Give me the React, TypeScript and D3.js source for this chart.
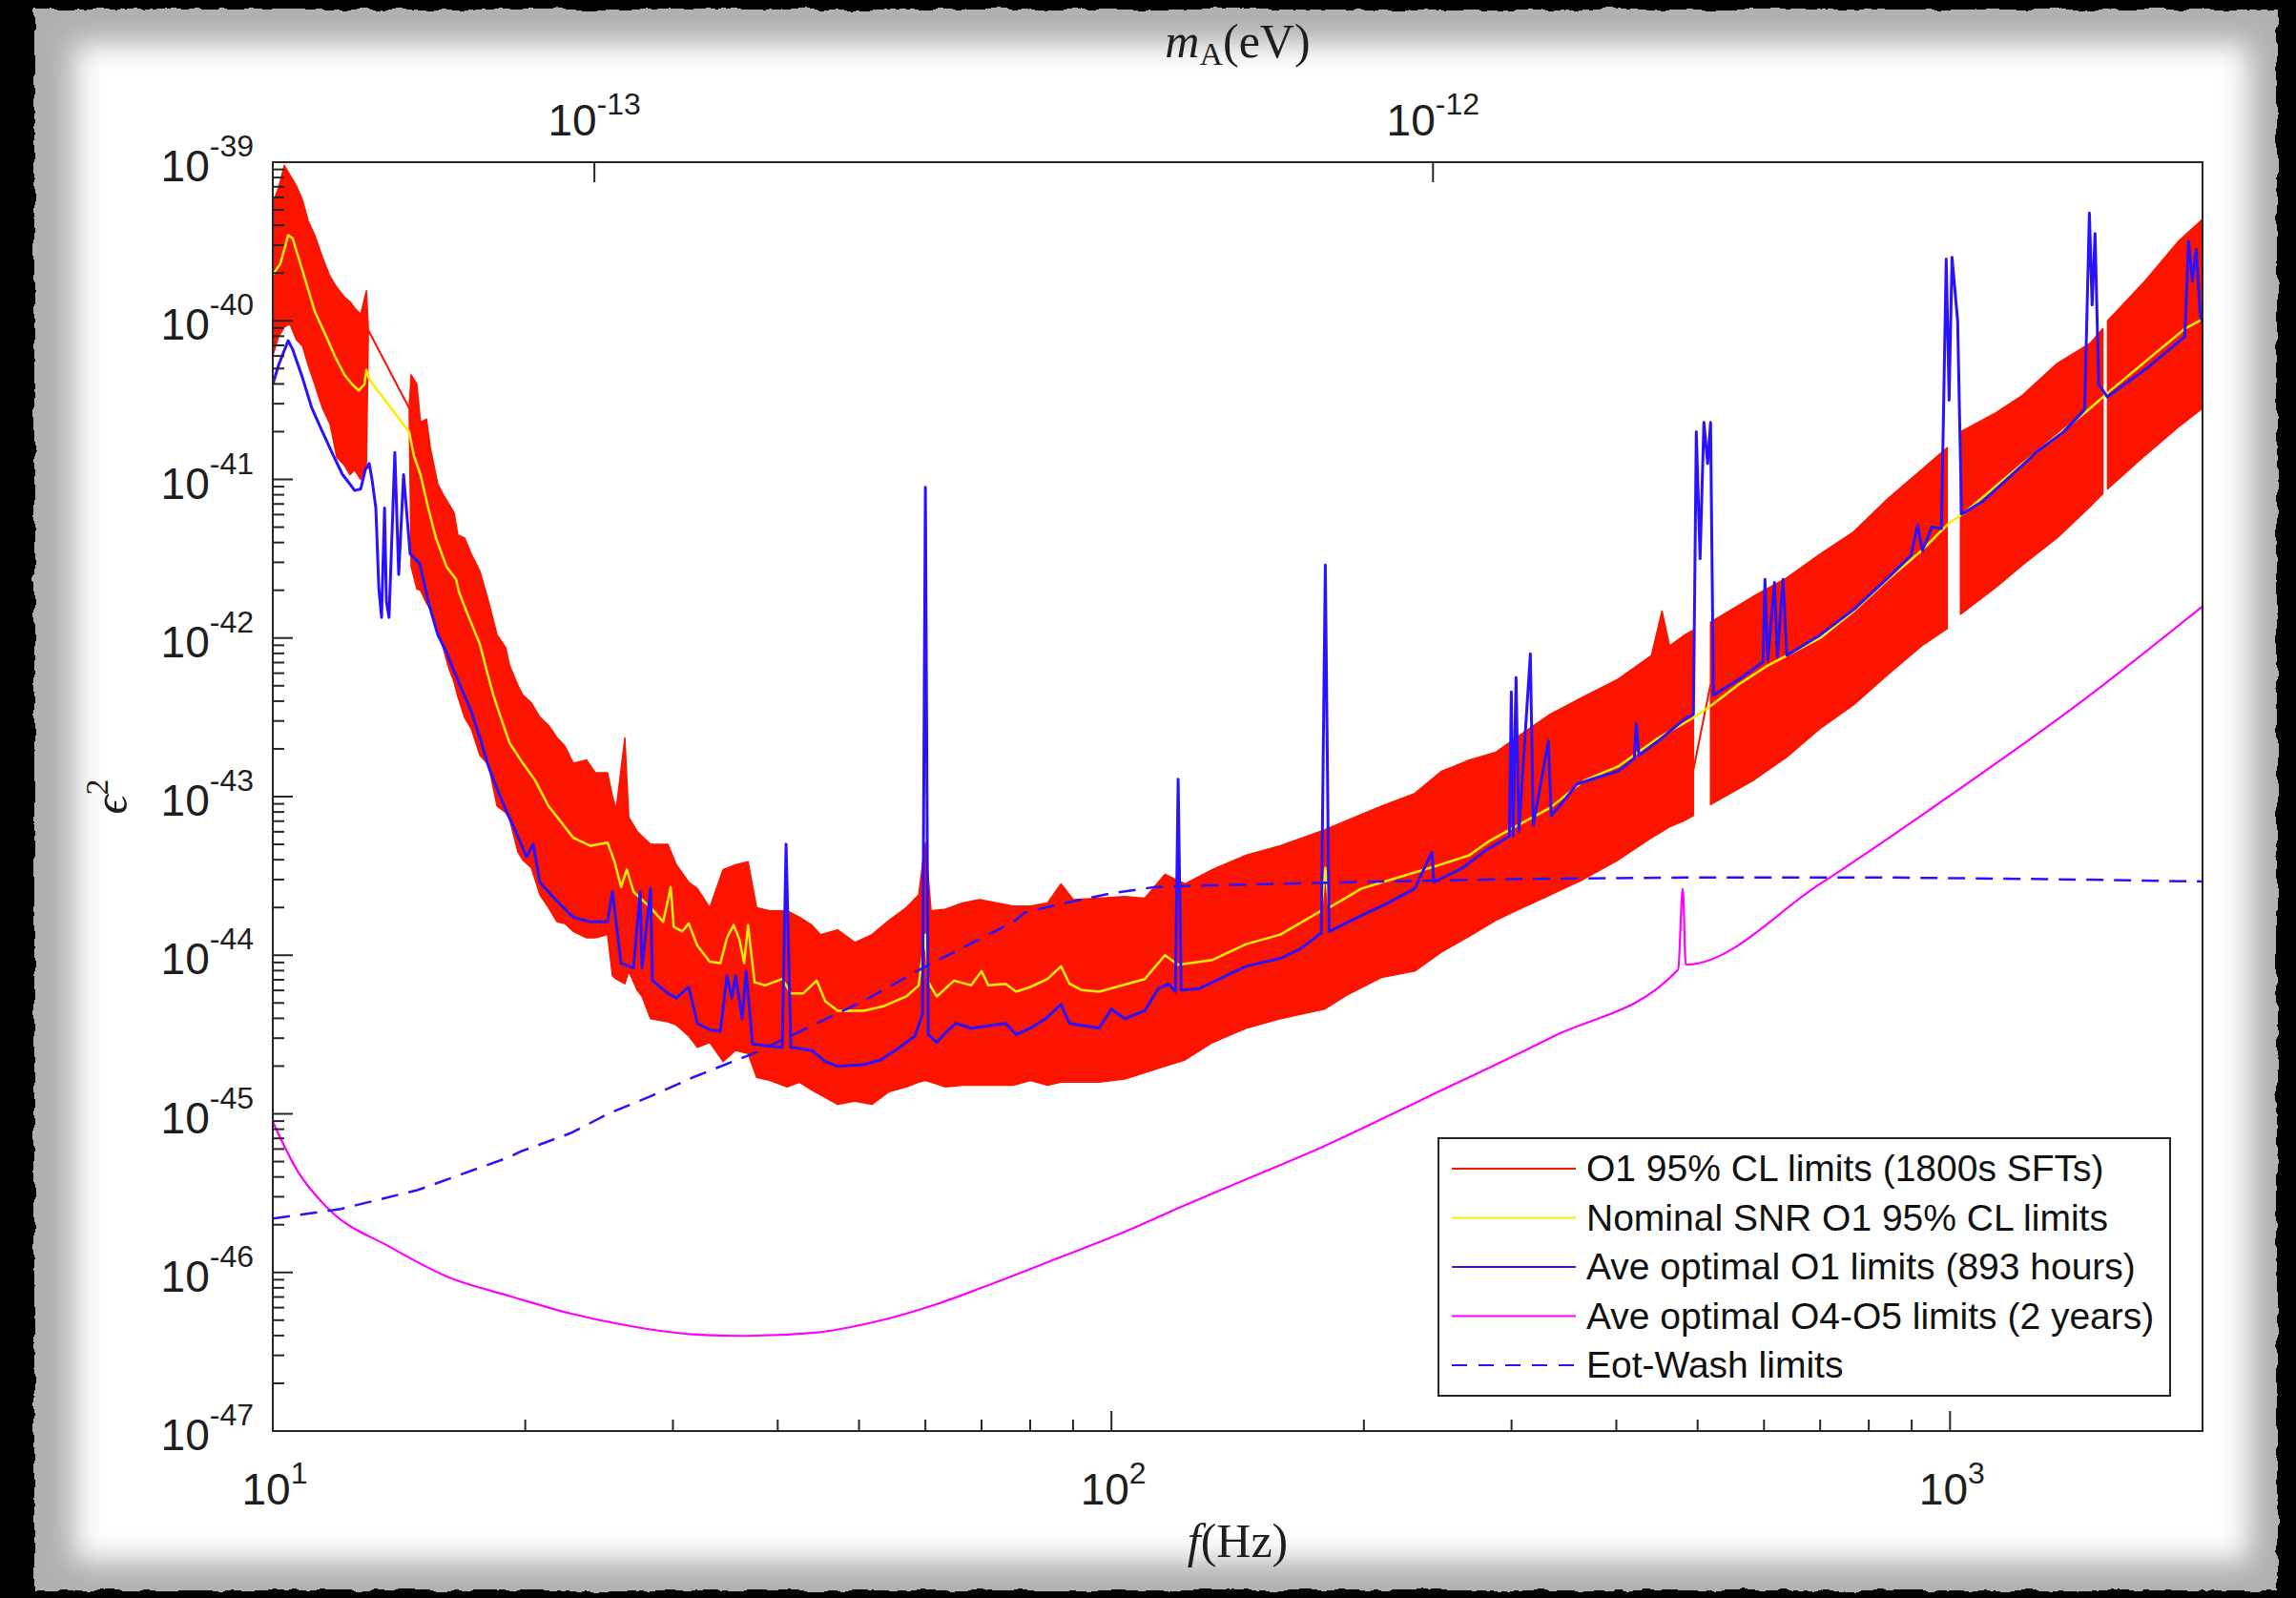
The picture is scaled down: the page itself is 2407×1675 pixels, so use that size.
import React, { useEffect, useRef } from 'react';
import * as d3 from 'd3';

// all values: frequency in Hz, curves as log10(eps^2)

// red band (O1 95% CL limits), upper / lower envelope; null = data gap
const redFreq = [
  10.0, 10.16, 10.32, 10.48, 10.67, 10.85, 11.02, 11.22, 11.46, 11.70, 11.92, 12.17, 12.36, 12.52, 12.73, 12.93, 13.00,
  null,
  14.54, 14.62, 14.85, 15.00, 15.25, 15.41, 15.73, 15.94, 16.19, 16.45,
  16.62, 16.93, 17.24, 17.66, 18.08, 18.51, 18.95, 19.15, 19.60, 19.87,
  20.34, 20.82, 21.32, 21.83, 22.29, 22.82, 23.67, 24.24, 25.07, 25.41,
  25.67, 26.29, 26.57, 27.20, 27.56, 28.21, 29.58, 30.28, 31.33, 32.08,
  33.19, 34.43, 35.63, 36.87, 37.75, 39.15, 41.05, 42.46, 43.93, 44.98,
  47.16, 49.43, 51.81, 54.32, 56.94, 58.90, 60.00, 60.95, 63.39, 66.45,
  69.66, 73.05, 76.35, 80.06, 83.90, 87.07, 90.06, 96.65, 103.7, 109.6,
  115.8, 122.4, 132.0, 144.7, 159.0, 179.4, 191.0, 209.9, 230.0, 247.5,
  267.1, 287.4, 309.2, 333.6, 365.7, 401.9, 440.5, 453.4, 463.0, 482.8,
  494.3,
  null,
  518.1, 581.6, 638.9, 700.2, 767.6, 843.3, 924.4, 992.2,
  null,
  1029, 1134, 1220, 1341, 1470, 1521,
  null,
  1541, 1707, 1871, 2000,
];
const redHi = [
  -39.26, -39.16, -39.02, -39.08, -39.15, -39.24, -39.37, -39.46, -39.60, -39.72, -39.79, -39.85, -39.88, -39.92, -39.96, -39.81, -40.06,
  null,
  -40.55, -40.34, -40.40, -40.64, -40.62, -40.80, -41.03, -41.09, -41.15, -41.21,
  -41.35, -41.37, -41.47, -41.58, -41.77, -41.98, -42.06, -42.17, -42.30, -42.36,
  -42.41, -42.50, -42.55, -42.63, -42.68, -42.79, -42.77, -42.85, -42.85, -43.00,
  -43.08, -42.63, -43.13, -43.22, -43.25, -43.30, -43.30, -43.43, -43.54, -43.58,
  -43.70, -43.46, -43.43, -43.41, -43.70, -43.72, -43.72, -43.76, -43.81, -43.87,
  -43.84, -43.92, -43.87, -43.78, -43.70, -43.62, -43.29, -43.72, -43.71, -43.67,
  -43.65, -43.67, -43.69, -43.69, -43.67, -43.55, -43.65, -43.64, -43.63, -43.64,
  -43.49, -43.55, -43.46, -43.37, -43.31, -43.21, -43.15, -43.06, -42.98, -42.84,
  -42.77, -42.72, -42.60, -42.48, -42.37, -42.26, -42.11, -41.83, -42.05, -41.98,
  -41.95,
  null,
  -41.90, -41.74, -41.62, -41.47, -41.33, -41.12, -40.94, -40.80,
  null,
  -40.70, -40.58, -40.47, -40.27, -40.14, -40.05,
  null,
  -40.00, -39.75, -39.50, -39.36,
];
const redLo = [
  -40.22, -40.10, -40.04, -40.02, -40.12, -40.16, -40.28, -40.40, -40.55, -40.65, -40.86, -40.91, -40.97, -40.94, -41.00, -40.90, -40.06,
  null,
  -40.55, -41.55, -41.69, -41.70, -41.78, -41.82, -41.95, -42.05, -42.18, -42.28,
  -42.37, -42.50, -42.57, -42.74, -42.80, -43.06, -43.10, -43.14, -43.35, -43.40,
  -43.45, -43.62, -43.70, -43.79, -43.80, -43.85, -43.89, -43.89, -43.87, -44.13,
  -44.15, -44.18, -44.10, -44.22, -44.26, -44.40, -44.42, -44.44, -44.51, -44.58,
  -44.55, -44.67, -44.60, -44.62, -44.77, -44.79, -44.83, -44.80, -44.85, -44.88,
  -44.94, -44.92, -44.94, -44.86, -44.83, -44.80, -44.79, -44.80, -44.83, -44.82,
  -44.82, -44.82, -44.82, -44.79, -44.82, -44.80, -44.80, -44.80, -44.78, -44.74,
  -44.70, -44.66, -44.55, -44.46, -44.40, -44.34, -44.25, -44.14, -44.10, -43.98,
  -43.88, -43.78, -43.70, -43.62, -43.52, -43.40, -43.26, -43.22, -43.19, -43.15,
  -43.12,
  null,
  -43.05, -42.90, -42.75, -42.57, -42.42, -42.23, -42.05, -41.94,
  null,
  -41.85, -41.68, -41.54, -41.37, -41.17, -41.09,
  null,
  -41.06, -40.85, -40.67, -40.55,
];
// straight red segments drawn across the data gaps
const redBridgeFreq = [[13.0, 14.54], [494.3, 518.1]];
const redBridgeVal = [[-40.06, -40.55], [-42.83, -42.29]];

// nominal SNR O1 (yellow)
const yellowFreq = [
  10.0, 10.21, 10.43, 10.56, 10.90, 11.22, 11.58, 11.85, 12.17, 12.43,
  12.66, 12.86, 12.93, 13.03, 14.54, 14.73, 15.00, 15.32, 15.65, 16.11,
  16.54, 16.67, 17.07, 17.66, 17.98, 18.32, 18.75, 19.15, 19.87, 20.56,
  21.32, 22.06, 22.82, 23.92, 25.07, 25.55, 26.02, 26.43, 26.92, 28.21,
  29.21, 29.82, 30.06, 30.78, 31.33, 32.08, 33.19, 34.17, 34.80, 35.44,
  36.00, 36.48, 36.87, 37.54, 38.64, 40.50, 41.47, 42.91, 44.51, 45.58,
  47.16, 50.61, 53.60, 56.94, 58.90, 60.0, 60.47, 61.90, 64.91, 68.04,
  70.0, 71.3, 74.79, 76.97, 80.06, 83.9, 87.07, 89.13, 92.2, 96.65,
  101.3, 109.6, 115.8, 120.1, 132.0, 144.7, 159.0, 177.9, 179.9, 181.8,
  198.7, 225.9, 243.0, 267.1, 282.2, 298.2, 333.6, 365.7, 401.9, 448.6,
  491.7, 520.9, 560.5, 603.2, 638.9, 700.2, 767.6, 843.3, 924.4, 994.7,
  1035, 1220, 1470, 1553, 1905, 2000,
];
const yellowVal = [
  -39.71, -39.64, -39.46, -39.48, -39.72, -39.94, -40.10, -40.22, -40.34, -40.40,
  -40.44, -40.40, -40.31, -40.37, -40.70, -40.85, -40.97, -41.18, -41.37, -41.55,
  -41.63, -41.71, -41.85, -42.04, -42.20, -42.36, -42.52, -42.66, -42.79, -42.90,
  -43.06, -43.16, -43.26, -43.31, -43.29, -43.41, -43.57, -43.46, -43.60, -43.70,
  -43.79, -43.57, -43.82, -43.85, -43.80, -43.94, -44.04, -44.05, -43.89, -43.81,
  -43.90, -44.05, -43.81, -44.17, -44.19, -44.15, -44.24, -44.24, -44.16, -44.29,
  -44.35, -44.35, -44.32, -44.26, -44.19, -43.87, -44.17, -44.26, -44.16, -44.19,
  -44.10, -44.19, -44.18, -44.23, -44.20, -44.15, -44.07, -44.18, -44.22, -44.23,
  -44.20, -44.15, -44.00, -44.06, -44.03, -43.93, -43.87, -43.72, -43.45, -43.70,
  -43.58, -43.49, -43.44, -43.37, -43.28, -43.21, -43.07, -42.90, -42.81, -42.63,
  -42.51, -42.42, -42.29, -42.18, -42.11, -42.00, -41.83, -41.63, -41.45, -41.28,
  -41.22, -40.90, -40.55, -40.44, -40.05, -39.99,
];

// average optimal O1 (blue)
const blueFreq = [
  10.0, 10.16, 10.43, 10.56, 10.85, 11.13, 11.46, 11.76, 12.11, 12.36,
  12.52, 12.73, 12.89, 13.03, 13.13, 13.27, 13.38, 13.48, 13.59, 13.66,
  13.76, 13.98, 14.13, 14.32, 14.58, 14.97, 15.32, 15.73, 16.11, 16.45,
  16.85, 17.24, 17.66, 18.08, 18.51, 18.95, 19.41, 20.07, 20.44, 20.82,
  21.83, 22.82, 23.92, 25.07, 25.41, 26.02, 26.92, 27.42, 27.56, 28.21,
  28.36, 29.58, 30.28, 31.33, 32.08, 33.19, 34.17, 34.80, 35.26, 35.63,
  36.29, 36.67, 37.34, 38.64, 40.50, 40.93, 41.47, 43.93, 45.58, 47.16,
  50.61, 53.05, 55.61, 58.30, 59.53, 60.0, 60.47, 61.90, 63.39, 65.25,
  68.04, 74.79, 76.97, 80.06, 83.49, 87.07, 89.13, 96.65, 100, 103.7,
  109.6, 113.7, 117.0, 119.2, 120.1, 121.1, 127.3, 136.9, 144.7, 159.0,
  168.0, 177.9, 179.9, 181.8, 198.7, 213.8, 230.0, 241.1, 242.4, 262.2,
  279.3, 298.2, 299.8, 301.3, 303.7, 306.1, 315.9, 318.4, 331.9, 334.5,
  346.0, 359.1, 379.4, 401.9, 420.2, 422.4, 425.7, 448.6, 482.8, 494.3,
  498.2, 503.4, 508.7, 514.0, 518.1, 522.2, 560.5, 598.4, 601.6, 606.3,
  617.5, 622.4, 632.2, 638.9, 700.2, 767.6, 843.3, 898.0, 914.7, 926.8,
  951.4, 976.6, 989.5, 997.4, 1005.4, 1021, 1032, 1093, 1220, 1266,
  1366, 1447, 1466, 1477, 1489, 1504, 1540, 1716, 1905, 1925,
  1945, 1966, 1987, 2000,
];
const blueVal = [
  -40.40, -40.28, -40.125, -40.18, -40.36, -40.55, -40.70, -40.83, -40.97, -41.03,
  -41.07, -41.06, -40.94, -40.90, -41.00, -41.18, -41.69, -41.87, -41.18, -41.77,
  -41.87, -40.83, -41.60, -40.97, -41.47, -41.53, -41.77, -41.98, -42.09, -42.21,
  -42.34, -42.46, -42.63, -42.81, -42.95, -43.08, -43.20, -43.38, -43.30, -43.54,
  -43.66, -43.76, -43.79, -43.79, -43.60, -44.05, -44.08, -43.60, -44.08, -43.58,
  -44.16, -44.24, -44.27, -44.20, -44.43, -44.47, -44.48, -44.13, -44.27, -44.13,
  -44.40, -44.10, -44.56, -44.57, -44.58, -43.30, -44.58, -44.60, -44.67, -44.70,
  -44.69, -44.66, -44.59, -44.51, -44.37, -41.05, -44.50, -44.55, -44.49, -44.43,
  -44.46, -44.43, -44.50, -44.46, -44.40, -44.31, -44.43, -44.46, -44.34, -44.40,
  -44.35, -44.21, -44.18, -44.23, -42.89, -44.22, -44.21, -44.13, -44.07, -44.02,
  -43.96, -43.86, -41.54, -43.85, -43.75, -43.67, -43.58, -43.35, -43.54, -43.45,
  -43.34, -43.25, -42.34, -43.25, -42.25, -43.22, -42.10, -43.18, -42.65, -43.12,
  -43.03, -42.92, -42.88, -42.84, -42.76, -42.54, -42.74, -42.65, -42.51, -42.48,
  -40.70, -41.50, -40.64, -40.90, -40.64, -42.36, -42.26, -42.15, -41.63, -42.14,
  -41.65, -42.12, -41.63, -42.11, -41.98, -41.82, -41.62, -41.48, -41.29, -41.45,
  -41.30, -41.31, -39.61, -40.50, -39.60, -40.00, -41.22, -41.14, -40.91, -40.83,
  -40.70, -40.56, -39.32, -39.90, -39.45, -40.40, -40.48, -40.30, -40.10, -39.50,
  -39.75, -39.55, -39.95, -40.02,
];

// average optimal O4-O5 (magenta)
const magentaFreq = [10, 10.7, 11.6, 13.8, 16.2, 19.2, 22.7, 26.8, 31.7, 36.9, 44.3, 52.4, 61.9, 73.0, 86.3, 102, 120.7, 135, 180, 239, 334, 474, 480, 484, 700, 959, 1443, 2000];
const magentaVal = [-45.05, -45.36, -45.59, -45.84, -46.03, -46.15, -46.26, -46.34, -46.39, -46.40, -46.38, -46.31, -46.20, -46.06, -45.91, -45.76, -45.59, -45.48, -45.20, -44.89, -44.52, -44.09, -43.58, -44.06, -43.55, -43.06, -42.39, -41.80];

// Eot-Wash limits (dashed)
const eotFreq = [10, 12.05, 14.9, 19.2, 19.7, 22.7, 25.1, 28.2, 31.7, 37.8, 50.6, 59.6, 76.4, 78.9, 90, 100, 112.7, 130, 191, 300, 483, 843, 1300, 2000];
const eotVal = [-45.66, -45.60, -45.48, -45.27, -45.24, -45.12, -45.00, -44.89, -44.77, -44.61, -44.29, -44.08, -43.79, -43.73, -43.66, -43.61, -43.57, -43.56, -43.54, -43.52, -43.51, -43.51, -43.52, -43.535];

// axis ticks (powers of ten)
const xTickExp = [1, 2, 3];
const yTickExp = [-39, -40, -41, -42, -43, -44, -45, -46, -47];
const topTickExp = [-13, -12];

const legendLabels = [
  'O1 95% CL limits (1800s SFTs)',
  'Nominal SNR O1 95% CL limits',
  'Ave optimal O1 limits (893 hours)',
  'Ave optimal O4-O5 limits (2 years)',
  'Eot-Wash limits',
];

const PLANCK_EV = 4.135667e-15; // m_A = h f

const RED = '#fb1400';
const YELLOW = '#ffee00';
const BLUE = '#2a12ff';
const MAGENTA = '#ff00ff';
const AXIS = '#262626';

const App = () => {
  const svgRef = useRef<SVGSVGElement>(null);

  useEffect(() => {
    const width = 2407;
    const height = 1675;
    const margin = { top: 170, right: 98, bottom: 175, left: 286 };
    const x0 = margin.left;
    const x1 = width - margin.right;
    const y0 = margin.top;
    const y1 = height - margin.bottom;

    const svg = d3.select(svgRef.current);
    svg.selectAll('*').remove();

    // paper look: black surround, torn grey edge, white sheet
    const defs = svg.append('defs');
    const torn = defs.append('filter').attr('id', 'torn')
      .attr('x', '-2%').attr('y', '-2%').attr('width', '104%').attr('height', '104%');
    torn.append('feTurbulence').attr('type', 'fractalNoise').attr('baseFrequency', 0.05)
      .attr('numOctaves', 3).attr('seed', 7).attr('result', 'noise');
    torn.append('feDisplacementMap').attr('in', 'SourceGraphic').attr('in2', 'noise')
      .attr('scale', 8).attr('xChannelSelector', 'R').attr('yChannelSelector', 'G');
    const soft = defs.append('filter').attr('id', 'soft')
      .attr('x', '-10%').attr('y', '-10%').attr('width', '120%').attr('height', '120%');
    soft.append('feGaussianBlur').attr('stdDeviation', 15);
    defs.append('clipPath').attr('id', 'plotclip')
      .append('rect').attr('x', x0).attr('y', y0).attr('width', x1 - x0).attr('height', y1 - y0);

    svg.append('rect').attr('width', width).attr('height', height).attr('fill', '#000');
    svg.append('rect').attr('x', 36).attr('y', 10).attr('width', 2351).attr('height', 1657)
      .attr('fill', '#b0b0b0').attr('filter', 'url(#torn)');
    svg.append('rect').attr('x', 78).attr('y', 46).attr('width', 2280).attr('height', 1590)
      .attr('fill', '#fff').attr('filter', 'url(#soft)');

    const x = d3.scaleLog().domain([10, 2000]).range([x0, x1]);
    const y = d3.scaleLog().domain([1e-47, 1e-39]).range([y1, y0]);
    const xTop = d3.scaleLog().domain([10 * PLANCK_EV, 2000 * PLANCK_EV]).range([x0, x1]);

    svg.append('rect').attr('x', x0).attr('y', y0).attr('width', x1 - x0).attr('height', y1 - y0).attr('fill', '#fff');

    const plot = svg.append('g').attr('clip-path', 'url(#plotclip)');
    const pairs = (fs: number[], vs: number[]) => fs.map((f, i) => [f, vs[i]] as [number, number]);
    const line = d3.line<[number, number]>().x(d => x(d[0])).y(d => y(10 ** d[1]));

    // red band
    const redArea = d3.area<number>()
      .defined(i => redFreq[i] !== null)
      .x(i => x(redFreq[i] as number))
      .y0(i => y(10 ** (redLo[i] as number)))
      .y1(i => y(10 ** (redHi[i] as number)));
    plot.append('path').datum(d3.range(redFreq.length)).attr('d', redArea)
      .attr('fill', RED).attr('stroke', RED).attr('stroke-width', 1.5).attr('stroke-linejoin', 'round');
    redBridgeFreq.forEach((fs, k) => {
      plot.append('path').datum(pairs(fs, redBridgeVal[k])).attr('d', line)
        .attr('fill', 'none').attr('stroke', RED).attr('stroke-width', 2);
    });

    plot.append('path').datum(pairs(yellowFreq, yellowVal)).attr('d', line)
      .attr('fill', 'none').attr('stroke', YELLOW).attr('stroke-width', 2.5).attr('stroke-linejoin', 'round');
    plot.append('path').datum(pairs(blueFreq, blueVal)).attr('d', line)
      .attr('fill', 'none').attr('stroke', BLUE).attr('stroke-width', 3).attr('stroke-linejoin', 'round');
    plot.append('path').datum(pairs(magentaFreq, magentaVal))
      .attr('d', line.curve(d3.curveMonotoneX))
      .attr('fill', 'none').attr('stroke', MAGENTA).attr('stroke-width', 2.2);
    line.curve(d3.curveLinear);
    plot.append('path').datum(pairs(eotFreq, eotVal)).attr('d', line)
      .attr('fill', 'none').attr('stroke', BLUE).attr('stroke-width', 2.5).attr('stroke-dasharray', '18 11');

    // axes
    const axes = svg.append('g').attr('stroke', AXIS).attr('stroke-width', 2);
    axes.append('rect').attr('x', x0).attr('y', y0).attr('width', x1 - x0).attr('height', y1 - y0).attr('fill', 'none');

    const majorLen = 21;
    const minorLen = 12;
    const xMinor: number[] = [];
    [10, 100].forEach(d => d3.range(2, 10).forEach(m => xMinor.push(m * d)));
    xTickExp.forEach(e => {
      const px = x(10 ** e);
      axes.append('line').attr('x1', px).attr('x2', px).attr('y1', y1).attr('y2', y1 - majorLen);
    });
    xMinor.forEach(v => {
      const px = x(v);
      axes.append('line').attr('x1', px).attr('x2', px).attr('y1', y1).attr('y2', y1 - minorLen);
    });
    yTickExp.forEach(e => {
      const py = y(10 ** e);
      axes.append('line').attr('x1', x0).attr('x2', x0 + majorLen).attr('y1', py).attr('y2', py);
      if (e > -47) {
        d3.range(2, 10).forEach(m => {
          const pm = y(m * 10 ** (e - 1));
          axes.append('line').attr('x1', x0).attr('x2', x0 + minorLen).attr('y1', pm).attr('y2', pm);
        });
      }
    });
    topTickExp.forEach(e => {
      const px = xTop(10 ** e);
      axes.append('line').attr('x1', px).attr('x2', px).attr('y1', y0).attr('y2', y0 + majorLen);
    });

    const labels = svg.append('g')
      .attr('font-family', '"Liberation Sans", Arial, Helvetica, sans-serif')
      .attr('fill', '#1e1e1e').attr('font-size', 46);
    const powerLabel = (t: any, e: number, rise: number) => {
      t.append('tspan').text('10');
      t.append('tspan').attr('font-size', 32).attr('dy', -rise).text(String(e));
    };
    xTickExp.forEach(e => {
      const t = labels.append('text').attr('x', x(10 ** e) + 2).attr('y', y1 + 77).attr('text-anchor', 'middle');
      powerLabel(t, e, 22);
    });
    yTickExp.forEach(e => {
      const t = labels.append('text').attr('x', x0 - 20).attr('y', y(10 ** e) + 20).attr('text-anchor', 'end');
      powerLabel(t, e, 26);
    });
    topTickExp.forEach(e => {
      const t = labels.append('text').attr('x', xTop(10 ** e)).attr('y', y0 - 28).attr('text-anchor', 'middle');
      powerLabel(t, e, 22);
    });

    // axis titles (TeX style)
    const serif = '"Liberation Serif", "DejaVu Serif", serif';
    const cx = (x0 + x1) / 2;
    const fl = svg.append('text').attr('x', cx).attr('y', 1632).attr('text-anchor', 'middle')
      .attr('font-family', serif).attr('font-size', 50).attr('fill', '#1e1e1e');
    fl.append('tspan').attr('font-style', 'italic').text('f');
    fl.append('tspan').text('(Hz)');
    const ml = svg.append('text').attr('x', cx).attr('y', 60).attr('text-anchor', 'middle')
      .attr('font-family', serif).attr('font-size', 50).attr('fill', '#1e1e1e');
    ml.append('tspan').attr('font-style', 'italic').text('m');
    ml.append('tspan').attr('font-size', 34).attr('dy', 8).text('A');
    ml.append('tspan').attr('dy', -8).text('(eV)');
    const el = svg.append('text').attr('transform', `translate(133, ${(y0 + y1) / 2}) rotate(-90)`)
      .attr('text-anchor', 'middle').attr('font-family', serif).attr('font-size', 50).attr('fill', '#1e1e1e');
    el.append('tspan').attr('font-style', 'italic').text('ϵ');
    el.append('tspan').attr('font-size', 34).attr('dy', -20).text('2');

    // legend
    const lg = svg.append('g');
    lg.append('rect').attr('x', 1508).attr('y', 1193).attr('width', 767).attr('height', 270)
      .attr('fill', '#fff').attr('stroke', AXIS).attr('stroke-width', 2);
    const legendStyle = [
      { c: RED, dash: null },
      { c: YELLOW, dash: null },
      { c: BLUE, dash: null },
      { c: MAGENTA, dash: null },
      { c: BLUE, dash: '16 12' },
    ];
    legendLabels.forEach((lab, i) => {
      const ly = 1225 + i * 51.5;
      lg.append('line').attr('x1', 1522).attr('x2', 1652).attr('y1', ly).attr('y2', ly)
        .attr('stroke', legendStyle[i].c).attr('stroke-width', 2)
        .attr('stroke-dasharray', legendStyle[i].dash);
      lg.append('text').attr('x', 1663).attr('y', ly + 13)
        .attr('font-family', '"Liberation Sans", Arial, Helvetica, sans-serif')
        .attr('font-size', 39).attr('fill', '#111').text(lab);
    });
  }, []);

  return (
    <svg ref={svgRef} width={2407} height={1675}
      style={{ position: 'absolute', left: 0, top: 0, display: 'block' }} />
  );
};

export default App;
